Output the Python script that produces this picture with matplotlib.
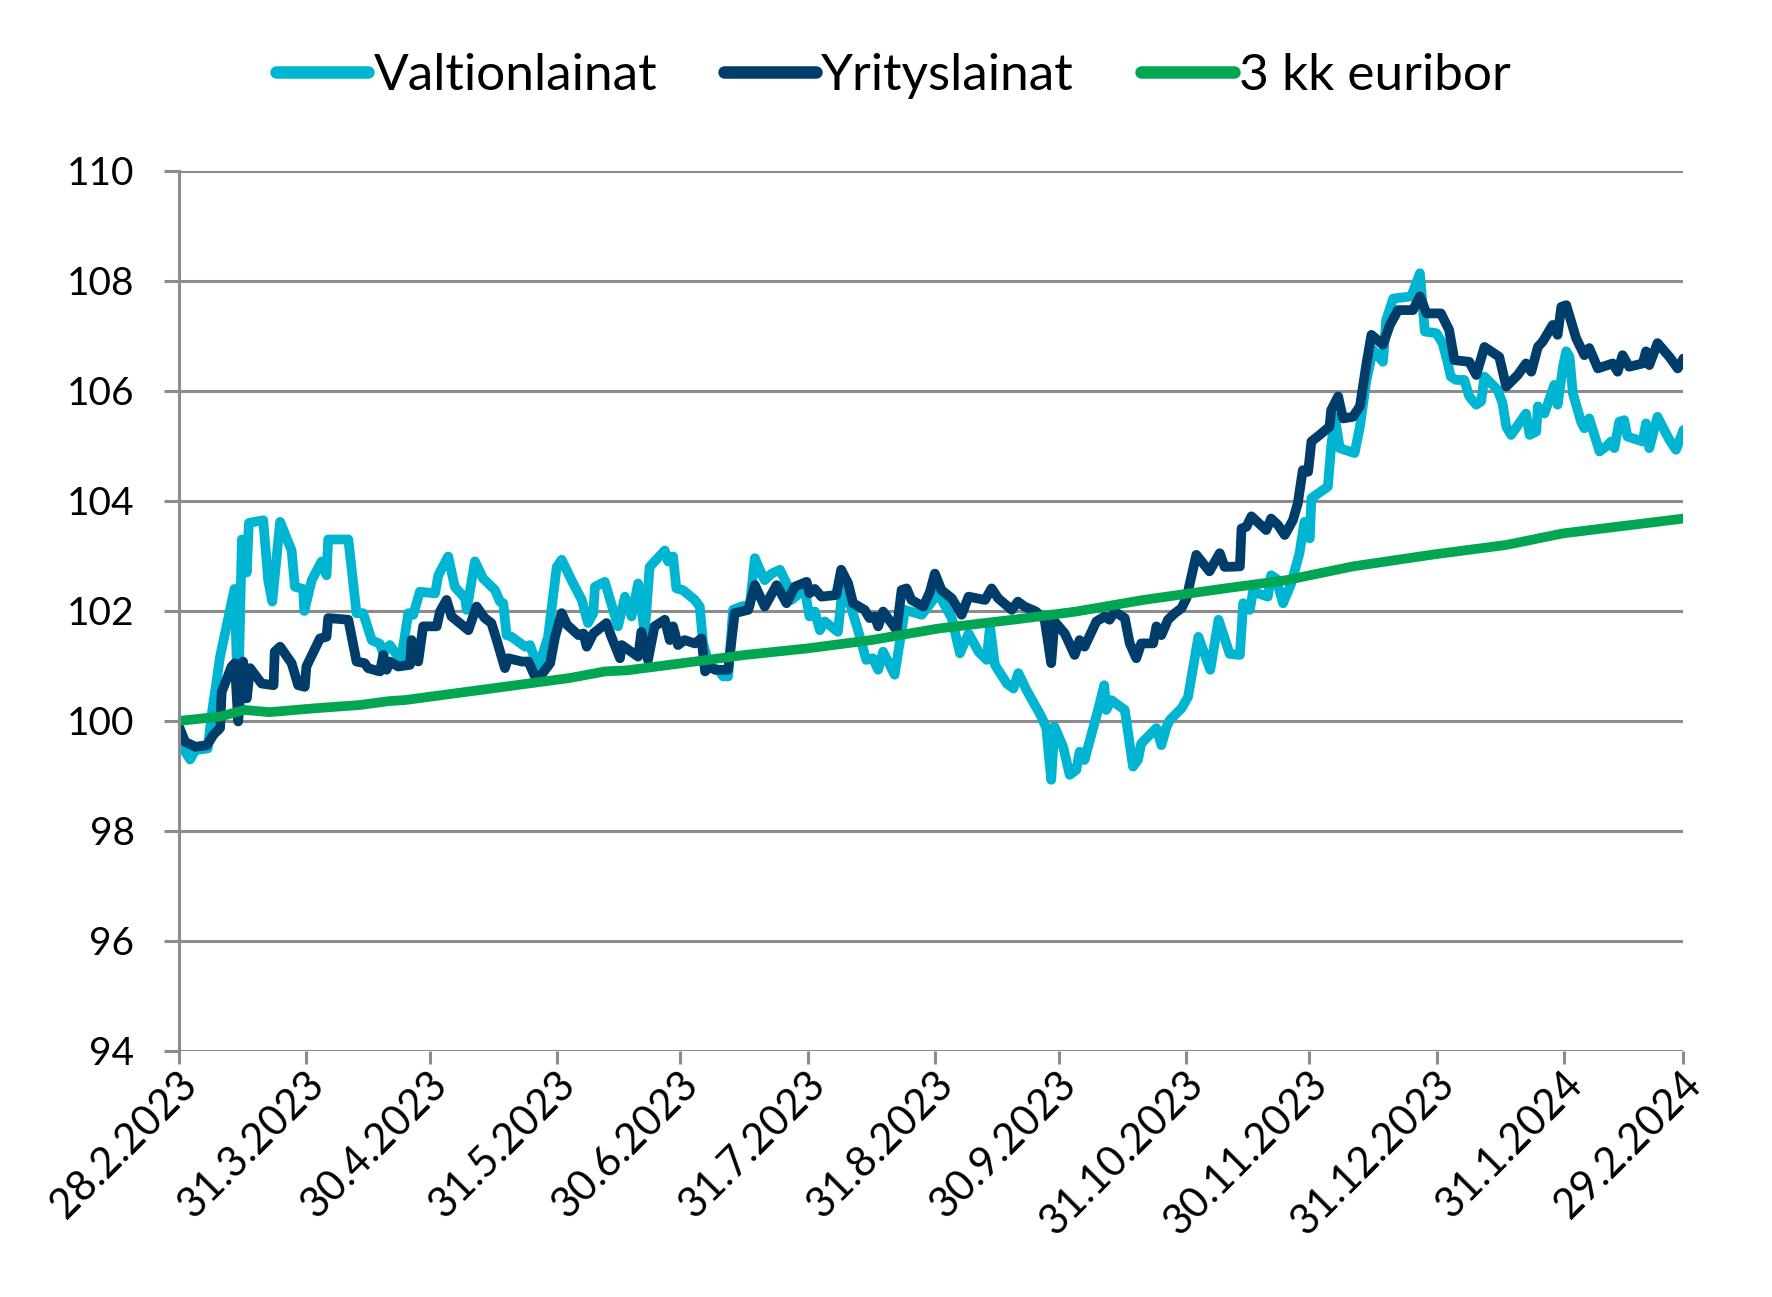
import matplotlib
matplotlib.use("Agg")
import matplotlib.pyplot as plt
import matplotlib.transforms as mtransforms
import pandas as pd

plt.rcParams['font.family'] = ['Lato', 'DejaVu Sans']

# days counted from 28.2.2023
valtio_days = [0, 1.0, 2.7, 4, 7, 8, 10, 13.5, 14.4, 15.3, 16.5, 17, 20.5, 21.7, 22.7, 24.6,
               27.4, 28.2, 30.2, 30.5, 32.3, 34.7, 35.9, 36.3, 41.2, 43.2, 44.8, 46.9, 48.9,
               49.7, 51.3, 53.3, 54.1, 55.8, 57, 58.6, 62.3, 63.1, 65.5, 67.1, 69.6, 70, 72,
               74, 76.9, 78.1, 78.9, 79.7, 80.9, 84.2, 85.4, 85.8, 87.4, 89.8, 91.9, 93.1,
               95.5, 98, 99.5, 100.8, 101.2, 103.6, 106.8, 108.5, 110.1, 111.7, 113.3, 114.5,
               118.2, 119, 120.2, 121, 122.6, 125.5, 126.7, 127.5, 129.1, 131.2, 132.4, 133.6,
               134.8, 136.8, 138.9, 140.1, 141.3, 142.5, 144.2, 146.2, 148.2, 149, 152.2,
               153.4, 154.7, 155.9, 157.1, 160.3, 161.5, 163.2, 165.2, 167.2, 168.8, 170.1,
               171.3, 174.1, 176.6, 180.7, 184.7, 188, 190, 192.1, 194.5, 196.5, 197.3, 198.5,
               201.4, 203, 204.2, 206.2, 209.8, 211, 212.2, 213, 215.1, 216.7, 218.3, 219.1,
               220.3, 223.6, 225.1, 225.6, 226.8, 230.1, 232.1, 233.3, 234.1, 237.8, 239,
               240.3, 241.1, 243.9, 245.5, 248, 250.9, 252.9, 254.4, 255.6, 258.1, 258.9,
               260.5, 261.3, 264.9, 265.7, 266.9, 268.6, 270.6, 272.6, 273.8, 275.1, 275.5,
               279.5, 280.3, 281.2, 282.4, 286, 287.3, 288.9, 290.5, 292.9, 293.7, 295.4,
               299.8, 301.9, 303.1, 305.9, 307.4, 308.6, 309.4, 310.7, 312.7, 313.9, 315.6,
               316.8, 317.6, 320.8, 322, 322.9, 324.1, 327.7, 328.6, 330.2, 330.6, 332.2,
               334.6, 335.4, 336.7, 337.5, 338.3, 339.1, 341.1, 341.9, 343.1, 345.6, 347.2,
               348.4, 349.2, 350.4, 351.6, 352.4, 356.1, 356.9, 357.7, 359.7, 362.6, 364.2, 366]
valtio_vals = [99.7, 99.5, 99.3, 99.47, 99.5, 100.14, 101.17, 102.4, 100.3, 103.3, 102.7, 103.6,
               103.65, 102.56, 102.17, 103.62, 103.1, 102.44, 102.4, 102.0, 102.56, 102.9, 102.65,
               103.3, 103.3, 101.96, 101.96, 101.47, 101.4, 101.23, 101.38, 101.17, 101.14,
               101.96, 101.93, 102.35, 102.32, 102.65, 102.99, 102.44, 102.23, 102.02, 102.9,
               102.59, 102.38, 102.17, 102.14, 101.56, 101.53, 101.35, 101.38, 101.29, 100.96,
               101.53, 102.8, 102.93, 102.56, 102.2, 101.78, 101.96, 102.44, 102.53, 101.72,
               102.26, 101.9, 102.5, 101.59, 102.8, 103.1, 102.9, 102.99, 102.41, 102.38, 102.2,
               102.08, 101.41, 100.99, 100.93, 100.81, 100.81, 102.02, 102.08, 102.11, 102.96,
               102.75, 102.56, 102.68, 102.75, 102.44, 102.2, 102.4, 101.9, 101.99, 101.65,
               101.81, 101.62, 102.44, 102.14, 101.65, 101.11, 101.14, 100.93, 101.26, 100.84,
               102.02, 101.93, 102.32, 101.87, 101.23, 101.59, 101.26, 101.11, 101.72, 101.02,
               100.68, 100.59, 100.87, 100.56, 100.08, 99.87, 98.93, 99.9, 99.53, 99.02, 99.11,
               99.44, 99.29, 100.2, 100.65, 100.2, 100.38, 100.2, 99.17, 99.29, 99.59, 99.87,
               99.56, 99.9, 100.02, 100.23, 100.44, 101.53, 100.93, 101.84, 101.5, 101.22,
               101.2, 102.14, 102.02, 102.35, 102.26, 102.65, 102.59, 102.14, 102.5, 103.05,
               103.62, 103.32, 104.05, 104.26, 104.99, 105.53, 104.96, 104.87, 105.35, 106.2,
               106.75, 106.53, 107.29, 107.68, 107.72, 108.14, 107.08, 107.05, 106.87, 106.53,
               106.26, 106.2, 106.2, 105.9, 105.75, 105.81, 106.26, 106.02, 105.78, 105.35,
               105.2, 105.59, 105.2, 105.26, 105.72, 105.59, 106.11, 105.75, 106.44, 106.72,
               106.62, 105.96, 105.44, 105.32, 105.5, 104.9, 104.99, 105.08, 104.96, 105.44,
               105.47, 105.17, 105.08, 105.41, 104.96, 105.53, 105.11, 104.93, 105.29]

yritys_days = [0, 1.5, 4, 6.8, 8.4, 10, 10.4, 12.8, 13.6, 14.4, 15.6, 16.5, 17.3, 20.1, 23, 23.3,
               24.6, 27.4, 29, 30.6, 31, 34.3, 35.9, 36.3, 41.2, 43.2, 45.2, 46, 48.9, 49.7,
               50.5, 51.3, 53.3, 56.2, 56.6, 58.2, 59.4, 62.7, 63.5, 65.1, 66.3, 68.3, 70.4,
               72.4, 74.4, 76, 77.3, 79.3, 80.1, 83.4, 85, 86.6, 88.2, 90.3, 91.5, 93.1, 94.4,
               97.2, 98.4, 99.2, 100.8, 104, 105.2, 107.3, 107.7, 111.7, 112.5, 114.1, 115.7,
               118.2, 119.4, 120.2, 121.4, 123, 125.5, 127.1, 128, 129.1, 130.4, 133.6, 135.2,
               138.5, 140.1, 142.5, 145.4, 147.8, 149.8, 152.7, 153.4, 154.7, 156.3, 159.9,
               161.1, 162.8, 164, 166.8, 168, 169.3, 170.1, 171.3, 174.6, 175.8, 177, 178.2,
               181.1, 182.7, 183.9, 185.5, 188, 190.4, 192.1, 196.1, 197.7, 199.3, 202.6,
               204.1, 205.7, 208.5, 210.6, 212.2, 213, 215.5, 217.9, 219.1, 220.3, 223.2,
               225.2, 226.4, 227.6, 230.1, 231.3, 232.9, 234.1, 237, 237.8, 239, 240.6, 242.3,
               243.9, 245.1, 247.5, 249.1, 250.7, 253.2, 254.4, 258.1, 258.5, 259.7, 260.9,
               264.5, 265.7, 267.4, 269, 271, 272.2, 273.4, 274.7, 275.5, 277.5, 279.9, 280.3,
               282, 283.2, 285.6, 287.3, 288.9, 290.1, 292.9, 294.6, 296.6, 300.2, 301.9,
               303.5, 307, 309, 310.3, 313.9, 315.6, 317.6, 321.2, 322.9, 325.7, 327.7, 329,
               330.6, 331.8, 334.2, 335.4, 336.3, 337.5, 339.9, 341.9, 343.1, 345.2, 348.8,
               350, 351.2, 352.8, 356.1, 356.9, 357.7, 359.7, 362.6, 364.6, 366]
yritys_vals = [99.9, 99.62, 99.53, 99.56, 99.75, 99.87, 100.53, 100.99, 101.05, 99.99, 101.08,
               100.41, 100.96, 100.68, 100.65, 101.26, 101.35, 101.05, 100.65, 100.62, 100.99,
               101.5, 101.53, 101.87, 101.84, 101.08, 101.05, 100.96, 100.9, 101.2, 100.93,
               101.08, 100.99, 101.02, 101.47, 101.08, 101.72, 101.72, 101.99, 102.2, 101.9,
               101.78, 101.65, 102.08, 101.87, 101.78, 101.47, 100.96, 101.14, 101.08, 101.08,
               100.81, 100.84, 101.05, 101.53, 101.96, 101.75, 101.56, 101.59, 101.35, 101.59,
               101.78, 101.53, 101.14, 101.38, 101.17, 101.62, 101.11, 101.72, 101.84, 101.47,
               101.72, 101.38, 101.47, 101.41, 101.5, 100.9, 100.99, 100.93, 100.93, 101.96,
               102.02, 102.47, 102.08, 102.47, 102.14, 102.44, 102.53, 102.32, 102.4, 102.26,
               102.29, 102.75, 102.5, 102.14, 102.02, 101.87, 101.9, 101.72, 101.99, 101.65,
               102.38, 102.41, 102.2, 102.08, 102.35, 102.68, 102.38, 102.23, 101.93, 102.26,
               102.2, 102.41, 102.23, 102.02, 102.17, 102.08, 101.99, 101.84, 101.05, 101.81,
               101.59, 101.2, 101.47, 101.35, 101.81, 101.9, 101.84, 101.99, 101.87, 101.41,
               101.14, 101.41, 101.41, 101.72, 101.56, 101.84, 101.96, 102.05, 102.23, 103.02,
               102.87, 102.72, 103.05, 102.8, 102.81, 103.5, 103.53, 103.72, 103.47, 103.68,
               103.56, 103.38, 103.65, 103.96, 104.56, 104.53, 105.08, 105.2, 105.35, 105.65,
               105.9, 105.5, 105.53, 105.72, 106.5, 107.02, 106.84, 107.2, 107.47, 107.47,
               107.72, 107.41, 107.41, 107.11, 106.56, 106.53, 106.29, 106.8, 106.62, 106.08,
               106.29, 106.5, 106.35, 106.8, 106.9, 107.2, 107.02, 107.53, 107.56, 106.96,
               106.65, 106.78, 106.41, 106.5, 106.35, 106.65, 106.44, 106.5, 106.72, 106.47,
               106.87, 106.62, 106.41, 106.59]

euribor_days = [0, 10, 16, 22, 33, 44, 51, 55, 70, 82, 95, 103.6, 109, 125.5, 137.7, 153,
                168.4, 184.7, 204, 218.3, 234.6, 254.5, 269.4, 285.6, 305.5, 322.9, 336.7, 366]
euribor_vals = [100.0, 100.08, 100.2, 100.16, 100.23, 100.29, 100.36, 100.38, 100.53, 100.65,
                100.78, 100.9, 100.92, 101.08, 101.2, 101.32, 101.47, 101.68, 101.85, 101.99,
                102.2, 102.41, 102.56, 102.81, 103.03, 103.2, 103.41, 103.68]

tick_dates = ['2023-02-28', '2023-03-31', '2023-04-30', '2023-05-31', '2023-06-30',
              '2023-07-31', '2023-08-31', '2023-09-30', '2023-10-31', '2023-11-30',
              '2023-12-31', '2024-01-31', '2024-02-29']
tick_labels = ['28.2.2023', '31.3.2023', '30.4.2023', '31.5.2023', '30.6.2023', '31.7.2023',
               '31.8.2023', '30.9.2023', '31.10.2023', '30.11.2023', '31.12.2023',
               '31.1.2024', '29.2.2024']

start = pd.Timestamp('2023-02-28')


def to_dates(days):
    return start + pd.to_timedelta(days, unit='D')


grey = '#8c8c8c'
fig = plt.figure(figsize=(17.72, 12.97), dpi=100)
ax = fig.add_axes([0.101, 0.1897, 0.849, 0.6785])

lw = 7
ax.plot(to_dates(valtio_days), valtio_vals, color='#00b5d1', lw=lw,
        solid_joinstyle='round', solid_capstyle='round', label='Valtionlainat')
ax.plot(to_dates(yritys_days), yritys_vals, color='#003d6b', lw=lw,
        solid_joinstyle='round', solid_capstyle='round', label='Yrityslainat')
ax.plot(to_dates(euribor_days), euribor_vals, color='#00a651', lw=lw,
        solid_joinstyle='round', solid_capstyle='round', label='3 kk euribor')

ax.set_ylim(94, 110)
ax.set_yticks(range(94, 111, 2))
ax.set_xlim(start, pd.Timestamp('2024-02-29'))
ax.set_xticks(pd.to_datetime(tick_dates))
ax.set_xticklabels(tick_labels, rotation=45, ha='right', va='top', rotation_mode='anchor')

ax.yaxis.grid(True, color=grey, lw=2.2)
ax.set_axisbelow(True)
for s in ['top', 'right', 'bottom']:
    ax.spines[s].set_visible(False)
ax.spines['left'].set_color(grey)
ax.spines['left'].set_linewidth(2.2)

ax.tick_params(axis='y', length=11, width=2.2, color=grey, pad=21, labelsize=28)
ax.tick_params(axis='x', length=9, width=2.2, color=grey, pad=1, labelsize=30)

offset = mtransforms.ScaledTranslation(-0.02, 0, fig.dpi_scale_trans)
for lab in ax.get_xticklabels():
    lab.set_transform(lab.get_transform() + offset)

leg = fig.legend(loc='upper center', bbox_to_anchor=(0.504, 0.995), ncol=3, frameon=False,
                 fontsize=37, handlelength=1.8, handletextpad=0.1, columnspacing=1.3)
for h in leg.get_lines():
    h.set_linewidth(9)

fig.savefig('out.png', dpi=100)
